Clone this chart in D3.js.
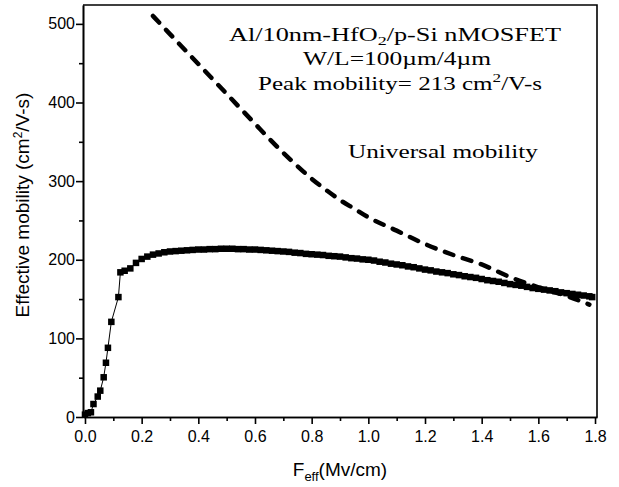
<!DOCTYPE html>
<html>
<head>
<meta charset="utf-8">
<script src="https://cdnjs.cloudflare.com/ajax/libs/d3/7.8.5/d3.min.js"></script>
<style>
  body { margin: 0; background: #fff; }
  .tick text { font-family: "Liberation Sans", Arial, sans-serif; font-size: 16px; fill: #000; }
  .note { font-family: "Liberation Serif", "Times New Roman", serif; font-size: 19px; fill: #000; }
</style>
</head>
<body>
<div id="chart"></div>
<script>
// measured mobility (squares), field in MV/cm
var fieldX = [0.0, 0.01, 0.021, 0.03, 0.045, 0.054, 0.066, 0.074, 0.081, 0.093, 0.118, 0.125,
  0.14, 0.16, 0.18, 0.20, 0.22, 0.24, 0.26, 0.28, 0.30, 0.32, 0.34, 0.36, 0.38, 0.40,
  0.42, 0.44, 0.46, 0.48, 0.50, 0.52, 0.54, 0.56, 0.58, 0.60, 0.62, 0.64, 0.66, 0.68, 0.70,
  0.72, 0.74, 0.76, 0.78, 0.80, 0.82, 0.84, 0.86, 0.88, 0.90, 0.92, 0.94, 0.96, 0.98, 1.00,
  1.02, 1.04, 1.06, 1.08, 1.10, 1.12, 1.14, 1.16, 1.18, 1.20, 1.22, 1.24, 1.26, 1.28, 1.30,
  1.32, 1.34, 1.36, 1.38, 1.40, 1.42, 1.44, 1.46, 1.48, 1.50, 1.52, 1.54, 1.56, 1.58, 1.60,
  1.62, 1.64, 1.66, 1.68, 1.70, 1.72, 1.74, 1.76, 1.78, 1.79];
var mobility = [3, 5, 6, 16.5, 26, 33.5, 50.5, 69, 88, 121, 152.5, 184,
  186, 189, 196, 201, 204, 206.5, 208, 209.5, 210.5, 211, 211.5, 212, 212.5, 213,
  213, 213.5, 213.5, 214, 214, 214, 213.5, 213.5, 213, 213, 212.5, 212, 211.5, 211, 210.5,
  210, 209, 208.5, 207.5, 207, 206.5, 206, 205, 204.5, 204, 203, 202, 201.5, 200.5, 200,
  199, 197.5, 196.5, 195, 194, 193, 191.5, 190.5, 189, 187.5, 186.5, 185, 184, 183, 181.5,
  180.5, 179, 178, 177, 175.5, 174, 173, 172, 170.5, 169, 168, 167, 165.5, 164, 163,
  162, 161, 160, 158.5, 157.5, 156.5, 155.5, 154.5, 153.5, 152.5];

// universal mobility curve (dashed)
var univX = [0.24, 0.30, 0.40, 0.50, 0.60, 0.65, 0.70, 0.75, 0.80, 0.85, 0.90, 0.95, 1.00, 1.10, 1.20, 1.30, 1.40, 1.50, 1.60, 1.70, 1.78];
var univY = [510, 487, 449, 411, 373, 354, 336, 319, 303, 289, 276, 265, 254, 237, 220, 206, 194, 178, 165, 154, 143];

var xTicks = [0.0, 0.2, 0.4, 0.6, 0.8, 1.0, 1.2, 1.4, 1.6, 1.8];
var xMinor = [0.1, 0.3, 0.5, 0.7, 0.9, 1.1, 1.3, 1.5, 1.7];
var yTicks = [0, 100, 200, 300, 400, 500];
var yMinor = [50, 150, 250, 350, 450];

var svgWidth = 619, svgHeight = 487;
var margin = { top: 5, right: 22, bottom: 70, left: 83 };
var width = svgWidth - margin.left - margin.right;
var height = svgHeight - margin.top - margin.bottom;

var svg = d3.select("#chart").append("svg")
  .attr("width", svgWidth)
  .attr("height", svgHeight);

var chartGroup = svg.append("g")
  .attr("transform", `translate(${margin.left}, ${margin.top})`);

var xScale = d3.scaleLinear().domain([-0.007, 1.807]).range([0, width]);
var yScale = d3.scaleLinear().domain([0, 524]).range([height, 0]);

// frame (top / right)
chartGroup.append("path")
  .attr("d", `M0,0H${width}V${height}`)
  .attr("fill", "none")
  .attr("stroke", "#000")
  .attr("stroke-width", 1.6);

// axes
var bottomAxis = d3.axisBottom(xScale).tickValues(xTicks).tickSize(7).tickSizeOuter(0)
  .tickFormat(d3.format(".1f"));
var bottomMinor = d3.axisBottom(xScale).tickValues(xMinor).tickSize(4).tickSizeOuter(0).tickFormat("");
var leftAxis = d3.axisLeft(yScale).tickValues(yTicks).tickSize(7).tickSizeOuter(0);
var leftMinor = d3.axisLeft(yScale).tickValues(yMinor).tickSize(4).tickSizeOuter(0).tickFormat("");

var gx = chartGroup.append("g").attr("transform", `translate(0, ${height})`).call(bottomAxis);
chartGroup.append("g").attr("transform", `translate(0, ${height})`).call(bottomMinor);
var gy = chartGroup.append("g").call(leftAxis);
chartGroup.append("g").call(leftMinor);

chartGroup.selectAll(".domain, .tick line").attr("stroke", "#000").attr("stroke-width", 1.6);
gx.selectAll(".tick text").attr("dy", "0.95em");
gy.selectAll(".tick text").attr("x", -8);

// universal mobility
var univLine = d3.line()
  .x((d, i) => xScale(univX[i]))
  .y(d => yScale(d))
  .curve(d3.curveMonotoneX);

chartGroup.append("path")
  .datum(univY)
  .attr("d", univLine)
  .attr("fill", "none")
  .attr("stroke", "#000")
  .attr("stroke-width", 4.5)
  .attr("stroke-linecap", "round")
  .attr("stroke-dasharray", "9,10");

// measured line + squares
var line1 = d3.line()
  .x((d, i) => xScale(fieldX[i]))
  .y(d => yScale(d));

chartGroup.append("path")
  .datum(mobility)
  .attr("d", line1)
  .attr("fill", "none")
  .attr("stroke", "#000")
  .attr("stroke-width", 1);

var sq = 6.5;
chartGroup.selectAll(".sq")
  .data(mobility)
  .enter()
  .append("rect")
  .attr("class", "sq")
  .attr("x", (d, i) => xScale(fieldX[i]) - sq / 2)
  .attr("y", d => yScale(d) - sq / 2)
  .attr("width", sq)
  .attr("height", sq)
  .attr("fill", "#000");

// axis titles
svg.append("text")
  .attr("transform", "translate(29, 205) rotate(-90)")
  .attr("text-anchor", "middle")
  .style("font-family", "'Liberation Sans', Arial, sans-serif")
  .style("font-size", "19px")
  .html('Effective mobility (cm<tspan dy="-7" font-size="12px">2</tspan><tspan dy="7">/V-s)</tspan>');

svg.append("text")
  .attr("x", 340)
  .attr("y", 476)
  .attr("text-anchor", "middle")
  .style("font-family", "'Liberation Sans', Arial, sans-serif")
  .style("font-size", "19px")
  .html('F<tspan dy="5" font-size="13px">eff</tspan><tspan dy="-5">(Mv/cm)</tspan>');

// annotations
svg.append("text").attr("class", "note")
  .attr("x", 229).attr("y", 41)
  .attr("textLength", 332).attr("lengthAdjust", "spacingAndGlyphs")
  .html('Al/10nm-HfO<tspan dy="4" font-size="13px">2</tspan><tspan dy="-4">/p-Si nMOSFET</tspan>');

svg.append("text").attr("class", "note")
  .attr("x", 303).attr("y", 65)
  .attr("textLength", 188).attr("lengthAdjust", "spacingAndGlyphs")
  .text("W/L=100\u00b5m/4\u00b5m");

svg.append("text").attr("class", "note")
  .attr("x", 258).attr("y", 90)
  .attr("textLength", 284).attr("lengthAdjust", "spacingAndGlyphs")
  .html('Peak mobility= 213 cm<tspan dy="-8" font-size="13px">2</tspan><tspan dy="8">/V-s</tspan>');

svg.append("text").attr("class", "note")
  .attr("x", 348).attr("y", 158)
  .attr("textLength", 190).attr("lengthAdjust", "spacingAndGlyphs")
  .text("Universal mobility");
</script>
</body>
</html>
